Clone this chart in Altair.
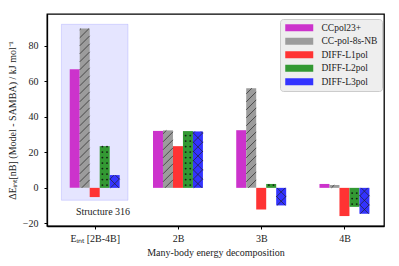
import altair as alt
import pandas as pd
import numpy as np

categories = ["Eᵢₙₜ [2B-4B]", "2B", "3B", "4B"]
series = ["CCpol23+", "CC-pol-8s-NB", "DIFF-L1pol", "DIFF-L2pol", "DIFF-L3pol"]
colors = ["#CC33CC", "#9C9C9C", "#FF3333", "#339933", "#3333FF"]
hatches = ["", "/", "", ".", "x"]
ccpol23 = [66.8, 32.1, 32.5, 2.2]
ccpol8s = [89.8, 32.4, 56.2, 1.6]
l1pol = [-5.2, 23.5, -12.2, -15.9]
l2pol = [23.5, 32.0, 2.2, -10.7]
l3pol = [7.2, 31.8, -9.9, -14.6]
values = [ccpol23, ccpol8s, l1pol, l2pol, l3pol]

highlight_x = [-0.4, 0.4]
highlight_y = [-7.0, 92.2]
note_text = "Structure 316"
note_pos = [0.1, -13.5]

XDOM = [-0.573, 3.475]
YDOM = [-21.5, 98.0]
W, H = 337, 212
BW = 0.12
ux = (XDOM[1] - XDOM[0]) / W   # data units per px
uy = (YDOM[1] - YDOM[0]) / H

rows = []
for j, s in enumerate(series):
    for i, c in enumerate(categories):
        xc = i + (j - 2) * BW
        rows.append(dict(series=s, cat=c, x=xc - BW / 2, x2=xc + BW / 2,
                         v=values[j][i], base=0.0, hatch=hatches[j]))
bars = pd.DataFrame(rows)

# hatch line segments, clipped to bars
seg = []
dots = []
spacing = 8 * uy
rise = (BW / ux) * uy
for r in rows:
    lo, hi = min(0, r["v"]), max(0, r["v"])
    if r["hatch"] in ("/", "x"):
        dirs = [1] if r["hatch"] == "/" else [1, -1]
        sp = spacing if r["hatch"] == "/" else spacing * 1.15
        for d in dirs:
            y0 = lo - rise
            while y0 < hi:
                t0 = max(0.0, (lo - y0) / rise)
                t1 = min(1.0, (hi - y0) / rise)
                if t1 > t0:
                    if d == 1:
                        xa = r["x"] + (r["x2"] - r["x"]) * t0
                        xb = r["x"] + (r["x2"] - r["x"]) * t1
                    else:
                        xa = r["x2"] - (r["x2"] - r["x"]) * t0
                        xb = r["x2"] - (r["x2"] - r["x"]) * t1
                    seg.append(dict(x=xa, x2=xb, y=y0 + rise * t0, y2=y0 + rise * t1))
                y0 += sp
    if r["hatch"] == ".":
        dy = 5.5 * uy
        yy = lo + dy / 2
        while yy < hi:
            for f in (0.27, 0.73):
                dots.append(dict(x=r["x"] + (r["x2"] - r["x"]) * f, y=yy))
            yy += dy
segs = pd.DataFrame(seg)
dotdf = pd.DataFrame(dots)

font = "Liberation Serif"
xs = alt.Scale(domain=XDOM, nice=False, zero=False)
ys = alt.Scale(domain=YDOM, nice=False, zero=False)

hl = alt.Chart(pd.DataFrame({"x": [highlight_x[0]], "x2": [highlight_x[1]],
                             "y": [highlight_y[0]], "y2": [highlight_y[1]]})).mark_rect(
    fill="#0000FF", fillOpacity=0.1, stroke="#0000FF", strokeOpacity=0.12, strokeWidth=1
).encode(x=alt.X("x:Q", scale=xs), x2="x2:Q", y=alt.Y("y:Q", scale=ys), y2="y2:Q")

label_expr = "[" + ",".join("'%s'" % c for c in categories) + "][datum.value]"

bar = alt.Chart(bars).mark_bar().encode(
    x=alt.X("x:Q", scale=xs,
            axis=alt.Axis(values=[0, 1, 2, 3], labelExpr=label_expr,
                          title="Many-body energy decomposition")),
    x2="x2:Q",
    y=alt.Y("v:Q", scale=ys,
            axis=alt.Axis(values=[-20, 0, 20, 40, 60, 80],
                          title="ΔEᵢₙₜ[nB] (Model - SAMBA) / kJ mol⁻¹",
                          titleX=-35, titleY=106, titleAngle=270,
                          titleAlign="center", titleBaseline="middle")),
    y2="base:Q",
    color=alt.Color("series:N", scale=alt.Scale(domain=series, range=colors),
                    sort=series,
                    legend=alt.Legend(title=None, orient="none", legendX=233, legendY=5,
                                      symbolType="M-1,-1L7,-1L7,1L-1,1Z",
                                      symbolSize=49, symbolStrokeWidth=0,
                                      fillColor="#EEEEEE", strokeColor="#CCCCCC",
                                      cornerRadius=3, padding=4, rowPadding=2.5,
                                      labelFont=font, labelFontSize=9.5,
                                      labelColor="#222222",
                                      labelOffset=28, symbolOpacity=1)),
)

hatch_lines = alt.Chart(segs).mark_rule(color="#222222", strokeWidth=0.8, opacity=0.85).encode(
    x=alt.X("x:Q", scale=xs), x2="x2:Q", y=alt.Y("y:Q", scale=ys), y2="y2:Q")

hatch_dots = alt.Chart(dotdf).mark_circle(color="#111111", size=3.5, opacity=0.9).encode(
    x=alt.X("x:Q", scale=xs), y=alt.Y("y:Q", scale=ys))

note = alt.Chart(pd.DataFrame({"x": [note_pos[0]], "y": [note_pos[1]], "t": [note_text]})).mark_text(
    font=font, fontSize=10, color="#222222", align="center", baseline="middle"
).encode(x=alt.X("x:Q", scale=xs), y=alt.Y("y:Q", scale=ys), text="t:N")

chart = alt.layer(hl, bar, hatch_lines, hatch_dots, note).properties(
    width=W, height=H,
    autosize=alt.AutoSizeParams(type="none"),
    padding={"left": 39, "top": 6, "right": 7, "bottom": 32},
).configure_view(stroke="#000000", strokeWidth=1.3).configure_axis(
    grid=False, domainColor="#000000", tickColor="#000000", tickSize=3,
    labelFont=font, labelFontSize=10, labelColor="#222222", titleFont=font,
    titleFontSize=10, titleFontWeight="normal", titleColor="#222222",
    domainWidth=1.3,
).configure_axisY(labelPadding=6).configure_axisX(labelPadding=4, titlePadding=4)

chart.save("out.html", embed_options={"renderer": "svg", "actions": False})
